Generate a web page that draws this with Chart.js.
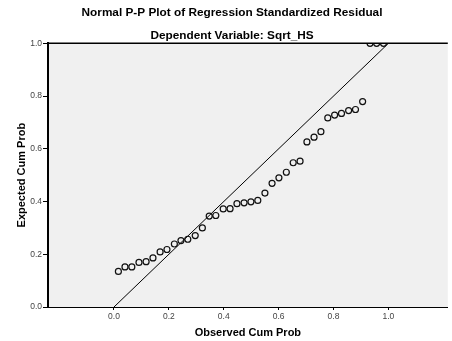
<!DOCTYPE html>
<html>
<head>
<meta charset="utf-8">
<script src="https://cdn.jsdelivr.net/npm/chart.js@4/dist/chart.umd.min.js"></script>
<style>
  html, body { margin: 0; padding: 0; background: #fff; }
  #wrap { width: 452px; height: 341px; }
</style>
</head>
<body>
<div id="wrap"><canvas id="pp"></canvas></div>
<script>
// observed vs expected cumulative probabilities
const observed = [0.016, 0.040, 0.065, 0.091, 0.117, 0.142, 0.168, 0.193, 0.220, 0.244,
  0.269, 0.296, 0.322, 0.347, 0.371, 0.398, 0.423, 0.448, 0.474, 0.499,
  0.524, 0.550, 0.576, 0.601, 0.628, 0.653, 0.678, 0.703, 0.729, 0.754,
  0.779, 0.804, 0.829, 0.855, 0.880, 0.906, 0.933, 0.957, 0.982];
const expected = [0.135, 0.152, 0.152, 0.169, 0.172, 0.186, 0.209, 0.218, 0.239, 0.252,
  0.257, 0.271, 0.300, 0.345, 0.347, 0.372, 0.373, 0.392, 0.395, 0.399,
  0.404, 0.432, 0.469, 0.490, 0.511, 0.547, 0.553, 0.626, 0.644, 0.665,
  0.717, 0.728, 0.734, 0.745, 0.749, 0.779, 1.0, 1.0, 1.0];
const refLine = [[0, 0], [1, 1]];
const xTickValues = [0, 0.2, 0.4, 0.6, 0.8, 1.0];
const yTickValues = [0, 0.2, 0.4, 0.6, 0.8, 1.0];

const font = "'Liberation Sans', Arial, sans-serif";

const plotFrame = {
  id: 'plotFrame',
  beforeDraw(chart) {
    const { ctx, chartArea: a } = chart;
    ctx.save();
    ctx.fillStyle = '#f0f0f0';
    ctx.fillRect(a.left, a.top, a.right - a.left, a.bottom - a.top);
    ctx.restore();
  },
  afterDraw(chart) {
    const { ctx, chartArea: a } = chart;
    ctx.save();
    ctx.strokeStyle = '#000';
    ctx.lineWidth = 1.5;
    ctx.beginPath();
    ctx.moveTo(a.left, a.top);
    ctx.lineTo(a.right, a.top);
    ctx.stroke();
    ctx.restore();
  }
};

new Chart(document.getElementById('pp'), {
  type: 'scatter',
  data: {
    datasets: [{
      data: observed.map((x, i) => ({ x: x, y: expected[i] })),
      borderColor: '#111',
      backgroundColor: 'rgba(0,0,0,0)',
      borderWidth: 1.2,
      pointRadius: 3,
      pointHoverRadius: 3,
      clip: 0
    }, {
      type: 'line',
      data: refLine.map(p => ({ x: p[0], y: p[1] })),
      borderColor: '#000',
      borderWidth: 1,
      pointRadius: 0,
      fill: false
    }]
  },
  plugins: [plotFrame],
  options: {
    responsive: true,
    maintainAspectRatio: false,
    animation: false,
    layout: { padding: { left: 12, right: 0, top: 0, bottom: 0 } },
    plugins: {
      legend: { display: false },
      tooltip: { enabled: false },
      title: {
        display: true,
        text: 'Normal P-P Plot of Regression Standardized Residual',
        color: '#000',
        font: { family: font, size: 11.8, weight: 'bold' },
        padding: { top: 6, bottom: 9 }
      },
      subtitle: {
        display: true,
        text: 'Dependent Variable: Sqrt_HS',
        color: '#000',
        font: { family: font, size: 11.8, weight: 'bold' },
        padding: { top: 0, bottom: 0 }
      }
    },
    scales: {
      x: {
        type: 'linear',
        min: -0.2405,
        max: 1.2164,
        afterBuildTicks: (scale) => { scale.ticks = xTickValues.map(v => ({ value: v })); },
        afterFit: (scale) => { scale.height = 34; },
        grid: { drawOnChartArea: false, tickLength: 3, color: '#000' },
        border: { display: true, color: '#000', width: 1 },
        ticks: {
          color: '#444',
          font: { family: font, size: 8.5 },
          padding: 2,
          callback: (v) => Number(v).toFixed(1)
        },
        title: {
          display: true,
          text: 'Observed Cum Prob',
          color: '#000',
          font: { family: font, size: 11, weight: 'bold' },
          padding: { top: 0, bottom: 1 }
        }
      },
      y: {
        min: 0,
        max: 1,
        afterBuildTicks: (scale) => { scale.ticks = yTickValues.map(v => ({ value: v })); },
        afterFit: (scale) => { scale.width = 36; },
        grid: { drawOnChartArea: false, tickLength: 5, color: '#000' },
        border: { display: true, color: '#000', width: 2 },
        ticks: {
          color: '#444',
          font: { family: font, size: 8.5 },
          padding: 1,
          callback: (v) => Number(v).toFixed(1)
        },
        title: {
          display: true,
          text: 'Expected Cum Prob',
          color: '#000',
          font: { family: font, size: 11, weight: 'bold' },
          padding: { top: 3.5, bottom: 0 }
        }
      }
    }
  }
});
</script>
</body>
</html>
